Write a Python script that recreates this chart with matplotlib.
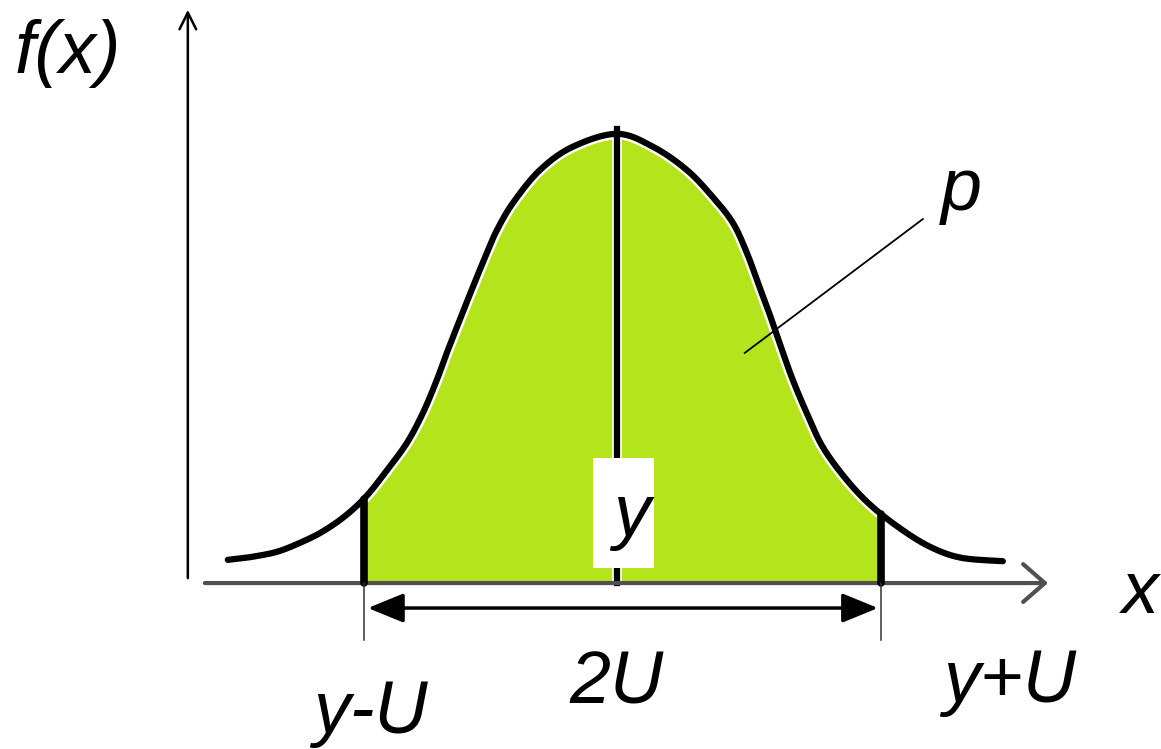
import numpy as np
import matplotlib.pyplot as plt
from matplotlib.patches import Rectangle

# curve: x in units of U around y, f scaled so the peak is ~1
curve_x = [-1.508, -1.422, -1.318, -1.229, -1.151, -1.074, -1.008, -0.957, -0.891,
           -0.814, -0.752, -0.698, -0.659, -0.609, -0.558, -0.504, -0.465, -0.403,
           -0.298, -0.171, 0.0,
           0.140, 0.271, 0.372, 0.450, 0.504, 0.550, 0.593, 0.636, 0.682, 0.736,
           0.798, 0.891, 0.992, 1.124, 1.233, 1.341, 1.496]
curve_f = [0.052, 0.058, 0.070, 0.090, 0.112, 0.141, 0.173, 0.204, 0.253,
           0.314, 0.381, 0.455, 0.516, 0.590, 0.664, 0.740, 0.791, 0.852,
           0.926, 0.978, 1.007,
           0.978, 0.926, 0.865, 0.807, 0.740, 0.668, 0.601, 0.529, 0.455, 0.381,
           0.305, 0.231, 0.170, 0.112, 0.076, 0.056, 0.049]

mean_y = 0.0
lower = -0.981   # y-U
upper = 1.023    # y+U

labels_bottom = ['y-U', '2U', 'y+U']

GREEN = '#b4e41c'
FONT = dict(family='Liberation Sans', style='italic', fontsize=53, color='black')


def smooth(x, y, n=20):
    # catmull-rom through the read points, only to draw a smooth line
    p = np.column_stack([x, y])
    p = np.vstack([p[0], p, p[-1]])
    out = []
    t = np.linspace(0, 1, n, endpoint=False)[:, None]
    for i in range(1, len(p) - 2):
        p0, p1, p2, p3 = p[i - 1], p[i], p[i + 1], p[i + 2]
        c1 = p1 + (p2 - p0) / 6
        c2 = p2 - (p3 - p1) / 6
        seg = ((1 - t) ** 3) * p1 + 3 * ((1 - t) ** 2) * t * c1 \
            + 3 * (1 - t) * t ** 2 * c2 + t ** 3 * p2
        out.append(seg)
    out.append(p[-2][None, :])
    out = np.vstack(out)
    return out[:, 0], out[:, 1]


fig = plt.figure(figsize=(11.61, 7.49), dpi=100)
ax = fig.add_axes([0, 0, 1, 1])
ax.set_xlim(-2.391, 2.109)
ax.set_ylim(-0.372, 1.307)
ax.axis('off')

sx, sf = smooth(curve_x, curve_f)

# shaded area between y-U and y+U
xs = np.linspace(lower, upper, 400)
ax.fill_between(xs, 0, np.interp(xs, sx, sf), color=GREEN, lw=0, zorder=1)

# curve with a thin white halo on the inside
ax.plot(sx, sf, color='white', lw=8, solid_capstyle='round', zorder=2)
ax.plot(sx, sf, color='black', lw=4.5, solid_capstyle='round',
        solid_joinstyle='round', zorder=3)

# centre line at y
peak = np.interp(mean_y, sx, sf)
ax.plot([mean_y, mean_y], [0, peak + 0.01], color='white', lw=7, zorder=2)
ax.plot([mean_y, mean_y], [0, peak + 0.01], color='black', lw=4.5, zorder=3)

# thick bars at y-U and y+U
for b in (lower, upper):
    ax.plot([b, b], [0, np.interp(b, sx, sf)], color='black', lw=5.5,
            solid_capstyle='round', zorder=4)
    ax.plot([b, b], [0, -0.128], color='#333333', lw=1.1, zorder=4)

# x axis
ax.annotate('', xy=(1.671, 0), xytext=(-1.597, 0),
            arrowprops=dict(arrowstyle='->,head_length=0.78,head_width=0.68',
                            color='#505050', lw=3, shrinkA=0, shrinkB=0,
                            mutation_scale=20), zorder=3)
# y axis
ax.annotate('', xy=(-1.663, 1.285), xytext=(-1.663, 0.011),
            arrowprops=dict(arrowstyle='->,head_length=0.6,head_width=0.3',
                            color='black', lw=1.8, shrinkA=0, shrinkB=0,
                            mutation_scale=20))

# 2U dimension arrow
ax.annotate('', xy=(1.012, -0.056), xytext=(-0.965, -0.056),
            arrowprops=dict(arrowstyle='<|-|>,head_length=1.1,head_width=0.45',
                            color='black', lw=2.5, shrinkA=0, shrinkB=0,
                            mutation_scale=20))

# leader line to p
ax.plot([0.496, 1.186], [0.516, 0.816], color='black', lw=1.3, zorder=5)

# white box behind the y label
ax.add_patch(Rectangle((-0.093, 0.034), 0.236, 0.246, facecolor='white',
                       edgecolor='none', zorder=6))

ax.text(-2.333, 1.143, 'f(x)', ha='left', va='baseline', **FONT)
ax.text(1.337, 0.836, 'p', ha='center', va='baseline', **FONT)
ax.text(0.058, 0.105, 'y', ha='center', va='baseline', zorder=7, **FONT)
ax.text(2.031, -0.067, 'x', ha='center', va='baseline', **FONT)
ax.text(-0.957, -0.336, labels_bottom[0], ha='center', va='baseline', **FONT)
ax.text(0.0, -0.269, labels_bottom[1], ha='center', va='baseline', **FONT)
ax.text(1.523, -0.267, labels_bottom[2], ha='center', va='baseline', **FONT)

fig.savefig('out.png', dpi=100)
